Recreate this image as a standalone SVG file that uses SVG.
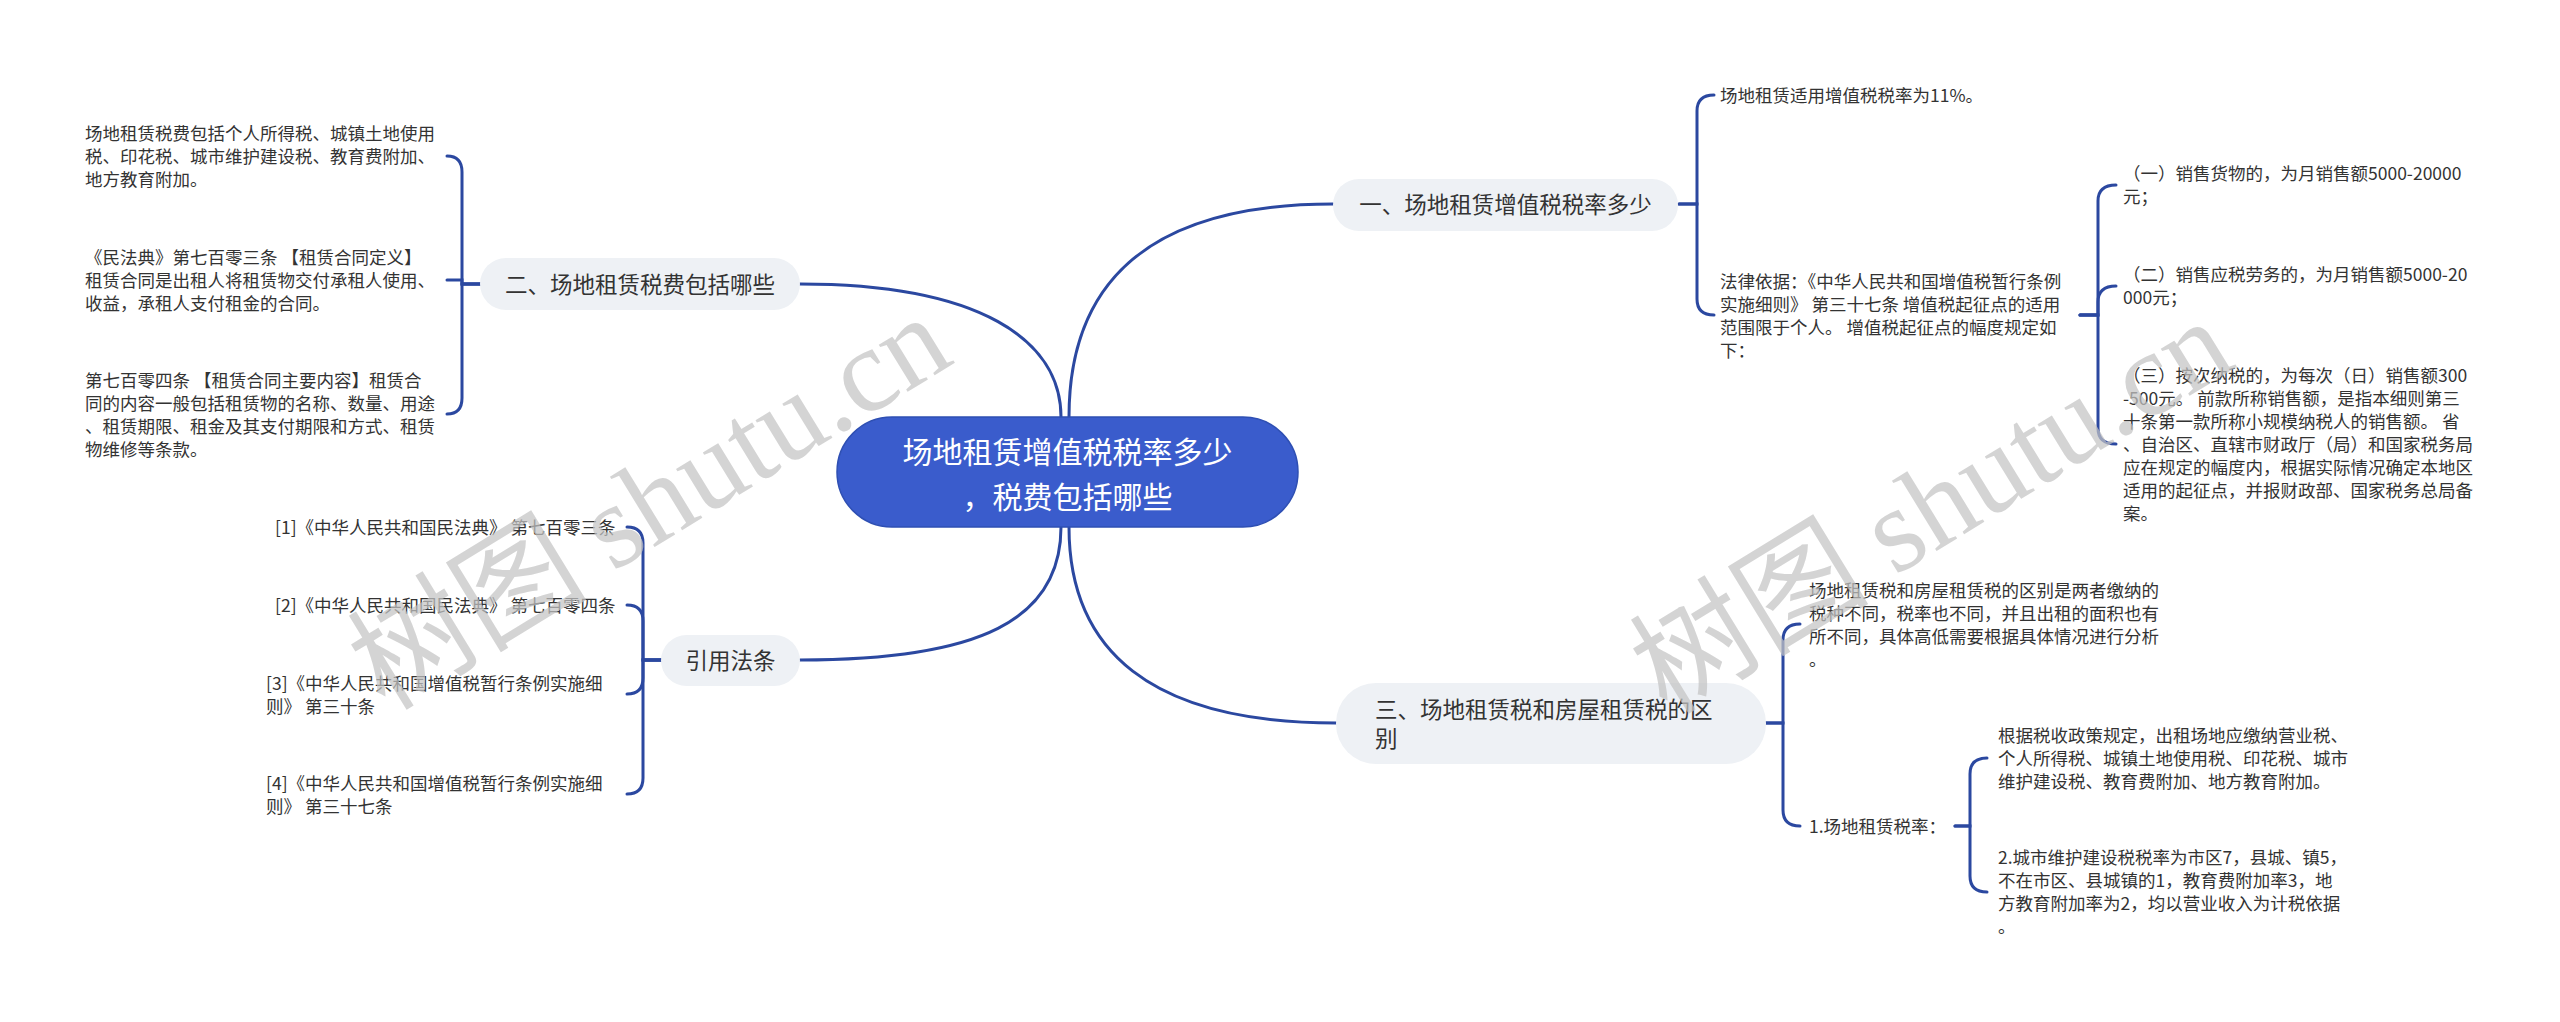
<svg xmlns="http://www.w3.org/2000/svg" width="2560" height="1022" viewBox="0 0 2560 1022">
<style>
text{font-family:"Noto Sans CJK SC","Noto Sans",sans-serif;fill:#333}
.leaf{font-size:17.5px}
.branch{font-size:22.5px;fill:#333}
.root{font-size:30px;fill:#fff}
.box{fill:#eef1f5}
.rootbox{fill:#3a5ccc;stroke:#2e4fb3;stroke-width:1.5}
.conn{fill:none;stroke:#2b48a0;stroke-width:3;stroke-linecap:round}
.wm{font-size:120px;fill:#c4c4c4;opacity:0.72}
.wm .lat{font-family:"Liberation Serif",serif}
</style>
<rect width="2560" height="1022" fill="#fff"/>
<g id="connectors">
<path class="conn" d="M1069,417 C1069,290 1140,204 1333,204"/>
<path class="conn" d="M1061,417 C1061,340 980,284 800,284"/>
<path class="conn" d="M1061,527 C1061,620 980,660 800,660"/>
<path class="conn" d="M1069,527 C1069,650 1150,723 1336,723"/>
<path class="conn" d="M480,284 L462,284 L462,172 Q462,156 447,156"/>
<path class="conn" d="M480,284 L462,284 L462,280 L447,280"/>
<path class="conn" d="M480,284 L462,284 L462,398 Q462,414 447,414"/>
<path class="conn" d="M661,660 L643,660 L643,543 Q643,527 627,527"/>
<path class="conn" d="M661,660 L643,660 L643,621 Q643,605 627,605"/>
<path class="conn" d="M661,660 L643,660 L643,678 Q643,694 627,694"/>
<path class="conn" d="M661,660 L643,660 L643,778 Q643,794 627,794"/>
<path class="conn" d="M1679,204 L1697,204 L1697,111 Q1697,95 1714,95"/>
<path class="conn" d="M1679,204 L1697,204 L1697,299 Q1697,315 1714,315"/>
<path class="conn" d="M2080,315 L2098,315 L2098,201 Q2098,185 2116,185"/>
<path class="conn" d="M2080,315 L2098,315 L2098,302 Q2098,286 2116,286"/>
<path class="conn" d="M2080,315 L2098,315 L2098,428 Q2098,444 2116,444"/>
<path class="conn" d="M1766,723 L1783,723 L1783,640 Q1783,624 1800,624"/>
<path class="conn" d="M1766,723 L1783,723 L1783,810 Q1783,826 1800,826"/>
<path class="conn" d="M1955,826 L1970,826 L1970,774 Q1970,758 1987,758"/>
<path class="conn" d="M1955,826 L1970,826 L1970,876 Q1970,892 1987,892"/>
</g>
<g id="root">
<rect class="rootbox" x="837" y="417" width="461" height="110" rx="55"/>
<text class="root" text-anchor="middle"><tspan x="1067.5" y="463">场地租赁增值税税率多少</tspan><tspan x="1067.5" y="508">，税费包括哪些</tspan></text>
</g>
<g id="b1">
<rect class="box" x="1333" y="179" width="345" height="52" rx="26"/>
<text class="branch" x="1505.5" y="212.5" text-anchor="middle">一、场地租赁增值税税率多少</text>
</g>
<g id="b2">
<rect class="box" x="480" y="258" width="320" height="52" rx="26"/>
<text class="branch" x="640" y="292.5" text-anchor="middle">二、场地租赁税费包括哪些</text>
</g>
<g id="b3">
<rect class="box" x="661" y="635" width="139" height="51" rx="25.5"/>
<text class="branch" x="730.5" y="668.5" text-anchor="middle">引用法条</text>
</g>
<g id="b4">
<rect class="box" x="1336" y="683" width="430" height="81" rx="40"/>
<text class="branch"><tspan x="1375" y="717.5">三、场地租赁税和房屋租赁税的区</tspan><tspan x="1375" y="746.5">别</tspan></text>
</g>
<g id="b2-1">
<text class="leaf"><tspan x="85" y="139.6">场地租赁税费包括个人所得税、城镇土地使用</tspan><tspan x="85" y="162.6">税、印花税、城市维护建设税、教育费附加、</tspan><tspan x="85" y="185.6">地方教育附加。</tspan></text>
</g>
<g id="b2-2">
<text class="leaf"><tspan x="85" y="263.6">《民法典》第七百零三条 【租赁合同定义】</tspan><tspan x="85" y="286.6">租赁合同是出租人将租赁物交付承租人使用、</tspan><tspan x="85" y="309.6">收益，承租人支付租金的合同。</tspan></text>
</g>
<g id="b2-3">
<text class="leaf"><tspan x="85" y="386.6">第七百零四条 【租赁合同主要内容】租赁合</tspan><tspan x="85" y="409.6">同的内容一般包括租赁物的名称、数量、用途</tspan><tspan x="85" y="432.6">、租赁期限、租金及其支付期限和方式、租赁</tspan><tspan x="85" y="455.6">物维修等条款。</tspan></text>
</g>
<g id="b3-1">
<text class="leaf" x="275" y="533.6">[1]《中华人民共和国民法典》 第七百零三条</text>
</g>
<g id="b3-2">
<text class="leaf" x="275" y="611.6">[2]《中华人民共和国民法典》 第七百零四条</text>
</g>
<g id="b3-3">
<text class="leaf"><tspan x="266" y="689.6">[3]《中华人民共和国增值税暂行条例实施细</tspan><tspan x="266" y="712.6">则》 第三十条</tspan></text>
</g>
<g id="b3-4">
<text class="leaf"><tspan x="266" y="789.6">[4]《中华人民共和国增值税暂行条例实施细</tspan><tspan x="266" y="812.6">则》 第三十七条</tspan></text>
</g>
<g id="b1-1">
<text class="leaf" x="1720" y="101.6">场地租赁适用增值税税率为11%。</text>
</g>
<g id="b1-2">
<text class="leaf"><tspan x="1720" y="287.6">法律依据：《中华人民共和国增值税暂行条例</tspan><tspan x="1720" y="310.6">实施细则》 第三十七条 增值税起征点的适用</tspan><tspan x="1720" y="333.6">范围限于个人。 增值税起征点的幅度规定如</tspan><tspan x="1720" y="356.6">下：</tspan></text>
</g>
<g id="b1-2-1">
<text class="leaf"><tspan x="2123" y="179.6">（一）销售货物的，为月销售额5000-20000</tspan><tspan x="2123" y="202.6">元；</tspan></text>
</g>
<g id="b1-2-2">
<text class="leaf"><tspan x="2123" y="280.6">（二）销售应税劳务的，为月销售额5000-20</tspan><tspan x="2123" y="303.6">000元；</tspan></text>
</g>
<g id="b1-2-3">
<text class="leaf"><tspan x="2123" y="381.6">（三）按次纳税的，为每次（日）销售额300</tspan><tspan x="2123" y="404.6">-500元。 前款所称销售额，是指本细则第三</tspan><tspan x="2123" y="427.6">十条第一款所称小规模纳税人的销售额。 省</tspan><tspan x="2123" y="450.6">、自治区、直辖市财政厅（局）和国家税务局</tspan><tspan x="2123" y="473.6">应在规定的幅度内，根据实际情况确定本地区</tspan><tspan x="2123" y="496.6">适用的起征点，并报财政部、国家税务总局备</tspan><tspan x="2123" y="519.6">案。</tspan></text>
</g>
<g id="b4-1">
<text class="leaf"><tspan x="1809" y="596.6">场地租赁税和房屋租赁税的区别是两者缴纳的</tspan><tspan x="1809" y="619.6">税种不同，税率也不同，并且出租的面积也有</tspan><tspan x="1809" y="642.6">所不同，具体高低需要根据具体情况进行分析</tspan><tspan x="1809" y="665.6">。</tspan></text>
</g>
<g id="b4-2">
<text class="leaf" x="1809" y="832.6">1.场地租赁税率：</text>
</g>
<g id="b4-2-1">
<text class="leaf"><tspan x="1998" y="741.6">根据税收政策规定，出租场地应缴纳营业税、</tspan><tspan x="1998" y="764.6">个人所得税、城镇土地使用税、印花税、城市</tspan><tspan x="1998" y="787.6">维护建设税、教育费附加、地方教育附加。</tspan></text>
</g>
<g id="b4-2-2">
<text class="leaf"><tspan x="1998" y="863.6">2.城市维护建设税税率为市区7，县城、镇5，</tspan><tspan x="1998" y="886.6">不在市区、县城镇的1，教育费附加率3，地</tspan><tspan x="1998" y="909.6">方教育附加率为2，均以营业收入为计税依据</tspan><tspan x="1998" y="932.6">。</tspan></text>
</g>
<g id="watermarks">
<text class="wm" transform="translate(385,712) rotate(-31.5)">树图 <tspan class="lat">shutu.cn</tspan></text>
<text class="wm" transform="translate(1667,716) rotate(-31.5)">树图 <tspan class="lat">shutu.cn</tspan></text>
</g>
</svg>
